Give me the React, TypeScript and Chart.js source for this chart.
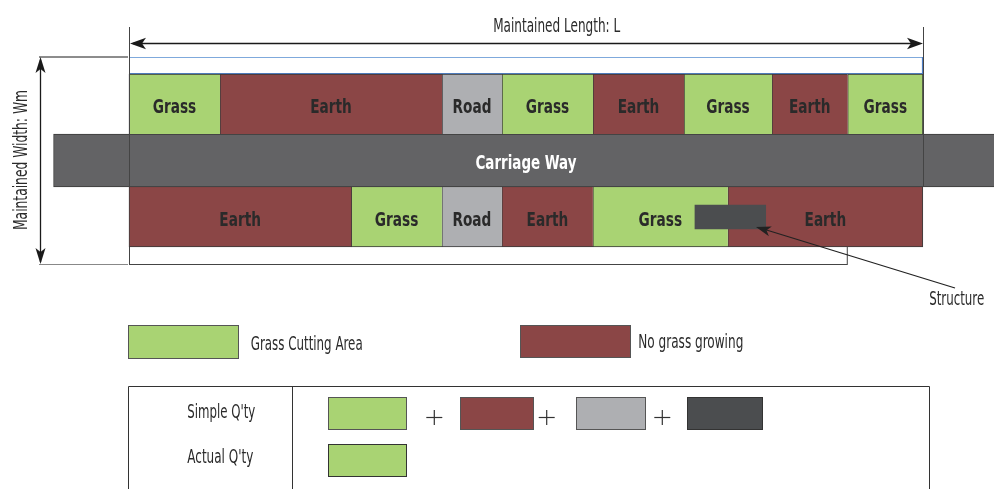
import React, { useEffect, useRef } from 'react';
import { Chart, registerables } from 'chart.js';

Chart.register(...registerables);

// ---------- data ----------
const rows = ['Top', 'Carriage', 'Bottom'];
const maintainedLength = 100; // L
const topTypes = ['Grass', 'Earth', 'Road', 'Grass', 'Earth', 'Grass', 'Earth', 'Grass'];
const topLengths = [11.46, 27.96, 7.56, 11.46, 11.46, 11.08, 9.53, 9.48];
const bottomTypes = ['Earth', 'Grass', 'Road', 'Earth', 'Grass', 'Earth'];
const bottomLengths = [28.0, 11.4, 7.56, 11.46, 17.0, 24.56];
const carriageSpan: [number, number] = [-9.5, 112];
const structureSpan: [number, number] = [71.28, 80.19];
const lowerStripSpan: [number, number] = [0, 90.4];
const titleLength = 'Maintained Length: L';
const titleWidth = 'Maintained Width: Wm';
const carriageLabel = 'Carriage Way';
const structureLabel = 'Structure';
const legendLabels = ['Grass Cutting Area', 'No grass growing'];
const legendTypes = ['Grass', 'Earth'];
const qtyLabels = ["Simple Q'ty", "Actual Q'ty"];
const simpleQtyParts = ['Grass', 'Earth', 'Road', 'Structure'];
const actualQtyParts = ['Grass'];

const COLORS: Record<string, string> = {
  Grass: '#a9d373',
  Earth: '#8b4646',
  Road: '#aeafb2',
  Carriage: '#636365',
  Structure: '#4b4d4f',
};
const BORDER = '#3a3a3a';
const FAMILY = '"Liberation Sans Narrow", "DejaVu Sans Condensed", "Arial Narrow", sans-serif';

function cumulative(lengths: number[]): [number, number][] {
  let s = 0;
  return lengths.map((l) => {
    const r: [number, number] = [s, s + l];
    s += l;
    return r;
  });
}

function buildDatasets() {
  const ds: any[] = [];
  ds.push({
    label: 'Structure',
    data: [null, null, structureSpan],
    backgroundColor: COLORS.Structure,
    borderWidth: 0,
    barThickness: 24,
    segLabel: null,
  });
  const topSpans = cumulative(topLengths);
  topSpans.forEach((sp, i) => {
    ds.push({
      label: 'top-' + i,
      data: [sp, null, null],
      backgroundColor: COLORS[topTypes[i]],
      borderColor: BORDER,
      borderWidth: { top: 1, left: 1, bottom: 0, right: i === topSpans.length - 1 ? 1 : 0 },
      barThickness: 60,
      segLabel: topTypes[i],
    });
  });
  ds.push({
    label: 'Carriage',
    data: [null, carriageSpan, null],
    backgroundColor: COLORS.Carriage,
    borderColor: BORDER,
    borderWidth: 1,
    barThickness: 53,
    segLabel: null,
  });
  const botSpans = cumulative(bottomLengths);
  botSpans.forEach((sp, i) => {
    ds.push({
      label: 'bottom-' + i,
      data: [null, null, sp],
      backgroundColor: COLORS[bottomTypes[i]],
      borderColor: BORDER,
      borderWidth: { top: 0, left: 1, bottom: 1, right: i === botSpans.length - 1 ? 1 : 0 },
      barThickness: 60,
      segLabel: bottomTypes[i],
    });
  });
  return ds;
}

function arrowHead(ctx: CanvasRenderingContext2D, tx: number, ty: number, fx: number, fy: number, len = 15, half = 5.5, notch = 11) {
  const a = Math.atan2(ty - fy, tx - fx);
  const c = Math.cos(a);
  const s = Math.sin(a);
  const P = (u: number, v: number): [number, number] => [tx + u * c - v * s, ty + u * s + v * c];
  ctx.beginPath();
  ctx.moveTo(...P(0, 0));
  ctx.lineTo(...P(-len, half));
  ctx.lineTo(...P(-notch, 0));
  ctx.lineTo(...P(-len, -half));
  ctx.closePath();
  ctx.fill();
}

function text(ctx: CanvasRenderingContext2D, s: string, x: number, y: number, font: string, color: string, align: CanvasTextAlign = 'center', maxW?: number) {
  ctx.font = font;
  ctx.fillStyle = color;
  ctx.textAlign = align;
  ctx.textBaseline = 'alphabetic';
  if (maxW) ctx.fillText(s, x, y, maxW);
  else ctx.fillText(s, x, y);
}

function narrowText(ctx: CanvasRenderingContext2D, s: string, x: number, y: number, font: string, color: string, squeeze: number) {
  ctx.font = font;
  const w = ctx.measureText(s).width * squeeze;
  text(ctx, s, x, y, font, color, 'center', w);
}

function line(ctx: CanvasRenderingContext2D, x1: number, y1: number, x2: number, y2: number, color: string, w = 1) {
  ctx.strokeStyle = color;
  ctx.lineWidth = w;
  ctx.beginPath();
  ctx.moveTo(x1, y1);
  ctx.lineTo(x2, y2);
  ctx.stroke();
}

function swatch(ctx: CanvasRenderingContext2D, x: number, y: number, w: number, h: number, fill: string, stroke: string) {
  ctx.fillStyle = fill;
  ctx.fillRect(x, y, w, h);
  ctx.strokeStyle = stroke;
  ctx.lineWidth = 1;
  ctx.strokeRect(x + 0.5, y + 0.5, w - 1, h - 1);
}

const diagramPlugin = {
  id: 'diagram',
  beforeDatasetsDraw(chart: any) {
    const ctx: CanvasRenderingContext2D = chart.ctx;
    const xs = chart.scales.x;
    const x0 = xs.getPixelForValue(0);
    const xL = xs.getPixelForValue(maintainedLength);
    ctx.save();
    // blue maintained strip
    ctx.fillStyle = '#ffffff';
    ctx.fillRect(x0, 57, xL - x0, 17);
    line(ctx, x0, 57.5, xL, 57.5, '#7fa9dc', 1.2);
    line(ctx, x0, 73.5, xL, 73.5, '#4f7fc4', 1.2);
    line(ctx, xL - 0.5, 57, xL - 0.5, 74, '#4f7fc4', 1.2);
    // lower white strip
    const s0 = xs.getPixelForValue(lowerStripSpan[0]);
    const s1 = xs.getPixelForValue(lowerStripSpan[1]);
    ctx.strokeStyle = '#444';
    ctx.lineWidth = 1;
    ctx.strokeRect(s0 + 0.5, 246.5, s1 - s0, 18);
    ctx.restore();
  },
  afterDatasetsDraw(chart: any) {
    const ctx: CanvasRenderingContext2D = chart.ctx;
    const xs = chart.scales.x;
    const x0 = xs.getPixelForValue(0);
    const xL = xs.getPixelForValue(maintainedLength);
    ctx.save();

    // segment labels
    chart.data.datasets.forEach((d: any, i: number) => {
      if (!d.segLabel) return;
      const meta = chart.getDatasetMeta(i);
      meta.data.forEach((el: any, j: number) => {
        if (d.data[j] == null) return;
        const cx = (el.x + el.base) / 2;
        narrowText(ctx, d.segLabel, cx, el.y + 8.5, 'bold 19px ' + FAMILY, '#2a2a2a', 0.8);
      });
    });
    // carriage label
    const carIdx = chart.data.datasets.findIndex((d: any) => d.label === 'Carriage');
    const carEl = chart.getDatasetMeta(carIdx).data[1];
    text(ctx, carriageLabel, xs.getPixelForValue(maintainedLength / 2), carEl.y + 8, 'bold 19px ' + FAMILY, '#ffffff', 'center', 101);

    // extension lines for length
    line(ctx, x0 + 0.5, 27, x0 + 0.5, 187, '#444');
    line(ctx, xL + 0.5, 27, xL + 0.5, 187, '#444');
    // length dimension arrow
    ctx.fillStyle = '#1a1a1a';
    line(ctx, x0 + 4, 43.5, xL - 4, 43.5, '#1a1a1a', 1.3);
    arrowHead(ctx, x0 + 1, 43.5, xL, 43.5, 16, 5.8, 12);
    arrowHead(ctx, xL, 43.5, x0, 43.5, 16, 5.8, 12);
    text(ctx, titleLength, 556.7, 31.5, '19px ' + FAMILY, '#2a2a2a', 'center', 127);

    // width dimension
    line(ctx, 39, 57, 128, 57, '#1a1a1a');
    line(ctx, 39, 264.5, 128, 264.5, '#888');
    line(ctx, 40.5, 60, 40.5, 262, '#1a1a1a', 1.3);
    ctx.fillStyle = '#1a1a1a';
    arrowHead(ctx, 40.5, 57, 40.5, 264, 16, 5, 12);
    arrowHead(ctx, 40.5, 264, 40.5, 57, 16, 5, 12);
    ctx.save();
    ctx.translate(27, 160);
    ctx.rotate(-Math.PI / 2);
    text(ctx, titleWidth, 0, 0, '19px ' + FAMILY, '#2a2a2a', 'center', 140);
    ctx.restore();

    // structure callout
    line(ctx, 955, 288, 760, 228, '#222', 1.2);
    ctx.fillStyle = '#222';
    arrowHead(ctx, 756, 227, 955, 288, 15, 5, 11);
    text(ctx, structureLabel, 956.7, 305, '19px ' + FAMILY, '#2a2a2a', 'center', 55);

    // legend
    swatch(ctx, 128, 325, 111, 34, COLORS[legendTypes[0]], '#555');
    text(ctx, legendLabels[0], 250.7, 350, '19px ' + FAMILY, '#2a2a2a', 'left', 112);
    swatch(ctx, 520, 325, 111, 33, COLORS[legendTypes[1]], '#555');
    text(ctx, legendLabels[1], 638.3, 348, '19px ' + FAMILY, '#2a2a2a', 'left', 105);

    // quantity table
    ctx.strokeStyle = '#333';
    ctx.lineWidth = 1;
    ctx.beginPath();
    ctx.moveTo(128.5, 500);
    ctx.lineTo(128.5, 386.5);
    ctx.lineTo(929.5, 386.5);
    ctx.lineTo(929.5, 500);
    ctx.moveTo(292.5, 386.5);
    ctx.lineTo(292.5, 500);
    ctx.stroke();
    text(ctx, qtyLabels[0], 221.3, 418.3, '20px ' + FAMILY, '#2a2a2a', 'center', 68);
    text(ctx, qtyLabels[1], 220.3, 463.3, '20px ' + FAMILY, '#2a2a2a', 'center', 66);

    const row1 = [
      { x: 328, w: 79 },
      { x: 460, w: 74 },
      { x: 576, w: 70 },
      { x: 687, w: 76 },
    ];
    const pluses = [434.3, 546.7, 662.3];
    simpleQtyParts.forEach((p, i) => {
      const r = row1[i];
      swatch(ctx, r.x, 397, r.w, 33, COLORS[p], p === 'Structure' ? '#333' : '#555');
    });
    pluses.forEach((px) => {
      line(ctx, px - 8, 417.5, px + 8, 417.5, '#333', 1.2);
      line(ctx, px, 410, px, 425, '#333', 1.2);
    });
    actualQtyParts.forEach((p) => {
      swatch(ctx, 328, 444, 79, 33, COLORS[p], '#333');
    });

    ctx.restore();
  },
};

export default function App() {
  const ref = useRef<HTMLCanvasElement>(null);
  useEffect(() => {
    const chart = new Chart(ref.current as HTMLCanvasElement, {
      type: 'bar',
      data: { labels: rows, datasets: buildDatasets() as any },
      options: {
        indexAxis: 'y',
        responsive: false,
        animation: false,
        layout: { padding: { left: 129, right: 71, top: 75.75, bottom: 243.75 } },
        scales: {
          x: { type: 'linear', min: 0, max: maintainedLength, display: false },
          y: { type: 'category', display: false, offset: true },
        },
        datasets: { bar: { grouped: false, borderSkipped: false, clip: false } as any },
        plugins: { legend: { display: false }, tooltip: { enabled: false } },
      } as any,
      plugins: [diagramPlugin],
    });
    return () => chart.destroy();
  }, []);
  return (
    <div style={{ position: 'absolute', left: 0, top: 0, width: 994, height: 489, background: '#fff' }}>
      <canvas ref={ref} width={994} height={489} style={{ display: 'block', width: 994, height: 489 }} />
    </div>
  );
}
